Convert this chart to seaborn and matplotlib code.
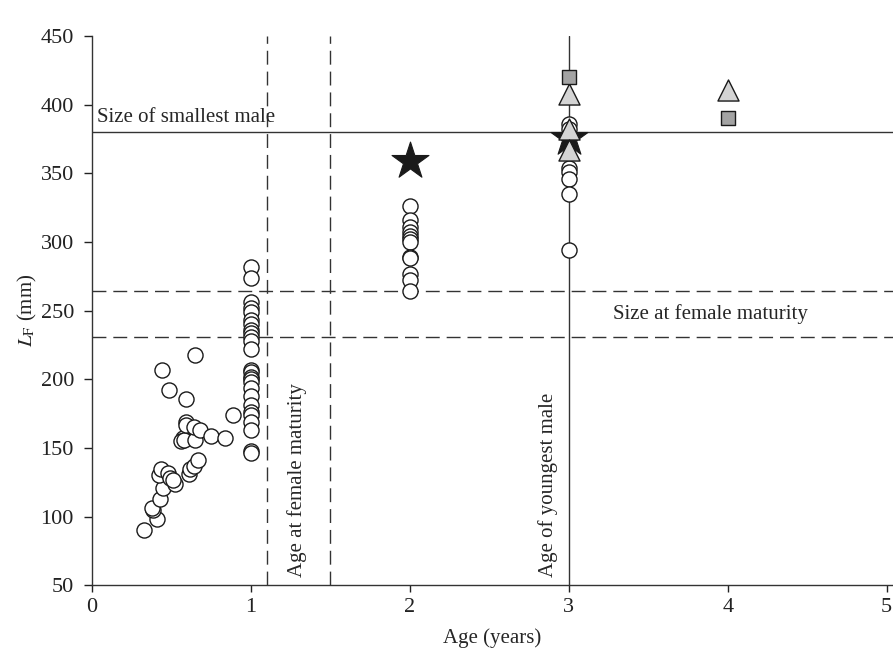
import numpy as np
import pandas as pd
import matplotlib
matplotlib.use("Agg")
import matplotlib.pyplot as plt
import seaborn as sns

# ---------------- data ----------------
circle_age = [0.33, 0.41, 0.385, 0.38, 0.43, 0.45, 0.52, 0.42, 0.434, 0.48, 0.49, 0.51,
              0.61, 0.616, 0.64, 0.67, 0.574, 0.56, 0.58, 0.65, 0.59, 0.59, 0.64, 0.68,
              0.75, 0.84, 0.89, 0.59, 0.486, 0.44, 0.65] \
    + [1.0] * 26 + [2.0] * 12 + [3.0] * 7
circle_len = [90, 98, 105, 106, 113, 121, 124, 130, 135, 132, 128, 127,
              131, 135, 137, 141, 157, 155, 156, 156, 169, 167, 165, 163,
              159, 157, 174, 186, 192, 207, 218] \
    + [282, 274, 256, 252, 249, 243, 240, 236, 234, 231, 228, 222, 207, 205, 202, 200,
       198, 194, 188, 181, 176, 174, 169, 163, 148, 146] \
    + [326, 316, 311, 307, 304, 302, 300, 289, 288, 277, 272, 264] \
    + [386, 382, 354, 351, 346, 335, 294]

star_age = [2.0, 3.0]
star_len = [359, 376]

triangle_age = [3.0, 3.0, 3.0, 4.0]
triangle_len = [408, 382, 367, 411]

square_age = [3.0, 4.0]
square_len = [420, 390]

x_ticks = [0, 1, 2, 3, 4, 5]
y_ticks = [50, 100, 150, 200, 250, 300, 350, 400, 450]

smallest_male = 380
female_mat_size = [231, 264]
female_mat_age = [1.1, 1.5]
youngest_male_age = 3.0

# ---------------- style ----------------
sns.set_theme(style="ticks")
plt.rcParams["font.family"] = ["Liberation Serif", "DejaVu Serif"]
plt.rcParams["mathtext.fontset"] = "stix"
plt.rcParams["font.size"] = 15

fig = plt.figure(figsize=(8.93, 6.54), dpi=100)
ax = fig.add_axes([0.103, 0.105, 0.897, 0.84])

lc = "#333333"

circles = pd.DataFrame({"age": circle_age, "len": circle_len})
stars = pd.DataFrame({"age": star_age, "len": star_len})
tris = pd.DataFrame({"age": triangle_age, "len": triangle_len})
sqs = pd.DataFrame({"age": square_age, "len": square_len})

sns.scatterplot(data=stars, x="age", y="len", marker="*", s=780, color="#1a1a1a",
                edgecolor="#1a1a1a", linewidth=0.8, ax=ax, zorder=3)
sns.scatterplot(data=circles, x="age", y="len", marker="o", s=118, facecolor="white",
                edgecolor="#1a1a1a", linewidth=1.0, ax=ax, zorder=4)
sns.scatterplot(data=tris, x="age", y="len", marker="^", s=230, color="#d4d4d4",
                edgecolor="#1a1a1a", linewidth=1.0, ax=ax, zorder=5)
sns.scatterplot(data=sqs, x="age", y="len", marker="s", s=100, color="#a3a3a3",
                edgecolor="#1a1a1a", linewidth=1.0, ax=ax, zorder=6)

# reference lines
ax.axhline(smallest_male, color=lc, lw=1.0, zorder=2)
for v in female_mat_size:
    ax.axhline(v, color=lc, lw=1.0, ls=(0, (10, 5)), zorder=2)
for v in female_mat_age:
    ax.axvline(v, color=lc, lw=1.0, ls=(0, (10, 5)), zorder=2)
ax.axvline(youngest_male_age, color=lc, lw=1.0, zorder=2)

# annotations
ax.text(0.03, 384, "Size of smallest male", ha="left", va="bottom", fontsize=15)
ax.text(3.89, 247.5, "Size at female maturity", ha="center", va="center", fontsize=15)
ax.text(1.29, 56, "Age at female maturity", rotation=90, ha="center", va="bottom", fontsize=15)
ax.text(2.87, 56, "Age of youngest male", rotation=90, ha="center", va="bottom", fontsize=15)

ax.set_xlim(0, 5.04)
ax.set_ylim(50, 450)
ax.set_xticks(x_ticks)
ax.set_yticks(y_ticks)
ax.set_xlabel("Age (years)", fontsize=15, labelpad=8)
ax.set_ylabel(r"$L_\mathrm{F}$ (mm)", fontsize=15, labelpad=1)
ax.tick_params(axis="y", direction="out", length=6, width=1.0, pad=7,
               colors="#222222", labelsize=16)
ax.tick_params(axis="x", direction="out", length=5, width=1.0, pad=4,
               colors="#222222", labelsize=16)

sns.despine(ax=ax)
for sp in ("left", "bottom"):
    ax.spines[sp].set_color(lc)
    ax.spines[sp].set_linewidth(1.0)

fig.savefig("out.png", dpi=100)
